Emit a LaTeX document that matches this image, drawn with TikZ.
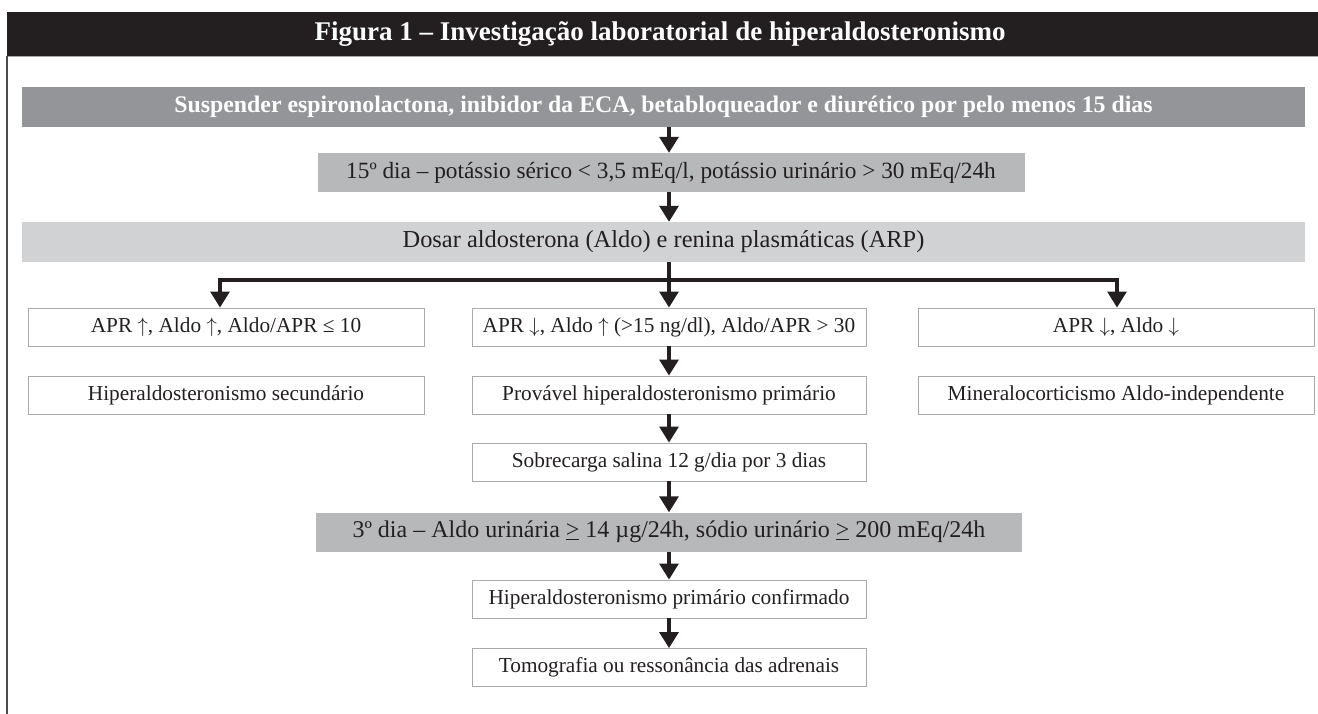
\documentclass[tikz,border=0pt]{standalone}
\usepackage{fontspec}
\setmainfont{Liberation Serif}
\usetikzlibrary{arrows.meta}
\definecolor{ink}{HTML}{231F20}
\definecolor{dgrey}{HTML}{939598}
\definecolor{mgrey}{HTML}{B7B8BA}
\definecolor{lgrey}{HTML}{D1D2D4}
\definecolor{edge}{HTML}{A7A9AC}
\begin{document}
\begin{tikzpicture}[x=1pt,y=-1pt,
  txt/.style={font=\fontsize{21.3}{23}\selectfont, text=ink},
  box/.style={txt, draw=edge, line width=0.9pt, minimum height=38pt, inner sep=0pt, anchor=center},
  band/.style={txt, minimum height=39pt, inner sep=0pt, anchor=center},
  arr/.style={draw=ink, line width=3.2pt, -{Triangle[length=16pt,width=19pt]}},
  link/.style={draw=ink, line width=3.2pt},
]
\useasboundingbox (0,0) rectangle (1318,714);
% title bar
\fill[ink] (7,12) rectangle (1318,56);
\node[font=\fontsize{27}{29}\selectfont\bfseries, text=white] (title) at (660,34) {Figura 1 – Investigação laboratorial de hiperaldosteronismo};
\draw[edge, line width=1.2pt] (7,56.5) -- (1318,56.5);
\draw[black!70, line width=1.5pt] (7,56) -- (7,714);

% main column
\node[band, fill=dgrey, minimum width=1283pt, minimum height=40pt, text=white, font=\fontsize{23.8}{25}\selectfont\bfseries] (b1) at (663.5,107) {Suspender espironolactona, inibidor da ECA, betabloqueador e diurético por pelo menos 15 dias};
\node[band, fill=mgrey, minimum width=707pt, font=\fontsize{23.3}{25}\selectfont] (b2) at (671,172.5) {15º dia – potássio sérico < 3,5 mEq/l, potássio urinário > 30 mEq/24h};
\node[band, fill=lgrey, minimum width=1283pt, minimum height=40pt, font=\fontsize{24.4}{26}\selectfont] (b3) at (663.5,242) {Dosar aldosterona (Aldo) e renina plasmáticas (ARP)};

\node[box, minimum width=396pt] (l1) at (226,327) {APR $\uparrow$, Aldo $\uparrow$, Aldo/APR ≤ 10};
\node[box, minimum width=394pt] (m1) at (669,327) {APR $\downarrow$, Aldo $\uparrow$ (>15 ng/dl), Aldo/APR > 30};
\node[box, minimum width=396pt] (r1) at (1116,327) {APR $\downarrow$, Aldo $\downarrow$};

\node[box, minimum width=396pt] (l2) at (226,395) {Hiperaldosteronismo secundário};
\node[box, minimum width=394pt] (m2) at (669,395) {Provável hiperaldosteronismo primário};
\node[box, minimum width=396pt] (r2) at (1116,395) {Mineralocorticismo Aldo-independente};

\node[box, minimum width=394pt] (sob) at (669,462) {Sobrecarga salina 12 g/dia por 3 dias};
\node[band, fill=mgrey, minimum width=706pt, font=\fontsize{24}{26}\selectfont] (d3) at (669,532) {3º dia – Aldo urinária \underline{>} 14 µg/24h, sódio urinário \underline{>} 200 mEq/24h};
\node[box, minimum width=394pt] (conf) at (669,599) {Hiperaldosteronismo primário confirmado};
\node[box, minimum width=394pt] (tom) at (669,667.5) {Tomografia ou ressonância das adrenais};

% connectors
\coordinate (mid) at (669,0);
\coordinate (fanL) at (220,280);
\coordinate (fanM) at (669,280);
\coordinate (fanR) at (1117,280);
\draw[arr] (b1.south -| mid) -- (b2.north -| mid);
\draw[arr] (b2.south -| mid) -- (b3.north -| mid);
\draw[link] (b3.south -| mid) -- (fanM);
\draw[link, line cap=rect] (fanL) -- (fanR);
\draw[arr] (fanL) -- (l1.north -| fanL);
\draw[arr] (fanM) -- (m1.north -| fanM);
\draw[arr] (fanR) -- (r1.north -| fanR);
\draw[arr] (m1.south -| mid) -- (m2.north -| mid);
\draw[arr] (m2.south -| mid) -- (sob.north -| mid);
\draw[arr] (sob.south -| mid) -- (d3.north -| mid);
\draw[arr] (d3.south -| mid) -- (conf.north -| mid);
\draw[arr] (conf.south -| mid) -- (tom.north -| mid);
\end{tikzpicture}
\end{document}
